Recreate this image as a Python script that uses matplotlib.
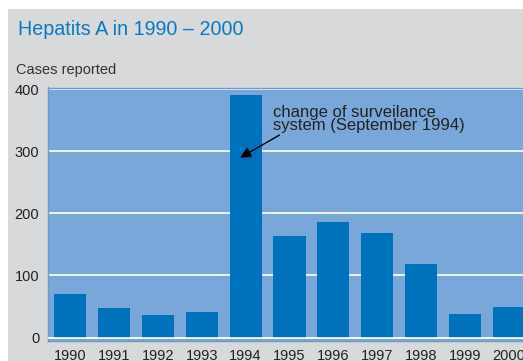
import matplotlib
matplotlib.use("Agg")
from matplotlib import pyplot as plt
from matplotlib.patches import Rectangle

years = ['1990', '1991', '1992', '1993', '1994', '1995', '1996', '1997', '1998', '1999', '2000']
cases = [70, 48, 36, 41, 390, 163, 186, 168, 118, 38, 49]
yticks = [0, 100, 200, 300, 400]

plt.rcParams['font.family'] = ['Liberation Sans', 'DejaVu Sans']

fig = plt.figure(figsize=(5.23, 3.61), dpi=100, facecolor='white')

# grey panel behind everything, starts a few px in from the top-left corner
fig.patches.append(Rectangle((8 / 523, 0), 1, 1 - 9 / 361, transform=fig.transFigure,
                             facecolor='#d8d9db', edgecolor='none', zorder=-10))

ax = fig.add_axes([47.7 / 523, 1 - 340.5 / 361, (531 - 47.7) / 523, (340.5 - 87.5) / 361])
ax.set_facecolor('#7aa7d9')

x = list(range(len(years)))
ax.bar(x, cases, width=0.73, color='#0072bc', zorder=2)

ax.set_xlim(-0.507, 10.5)
ax.set_ylim(-4.8, 402.6)
ax.set_yticks(yticks)
ax.set_xticks(x)
ax.set_xticklabels(years)
ax.yaxis.grid(True, color='white', linewidth=1.2, zorder=1)
ax.set_axisbelow(True)
ax.axhline(0, color='white', linewidth=1.2, zorder=3)

ax.tick_params(length=0, labelsize=10.5, colors='#222222')
ax.tick_params(axis='y', pad=6)
ax.tick_params(axis='x', pad=6)
for side in ['top', 'bottom', 'left', 'right']:
    ax.spines[side].set_color('#6f9acb')
    ax.spines[side].set_linewidth(1)

fig.text(18 / 523, 1 - 35 / 361, 'Hepatits A in 1990 \u2013 2000', fontsize=14.2,
         color='#0b78c3', ha='left', va='baseline')
fig.text(16 / 523, 1 - 74 / 361, 'Cases reported', fontsize=10.5,
         color='#333333', ha='left', va='baseline')

ax.text(4.62, 375, 'change of surveilance\nsystem (September 1994)', fontsize=12,
        color='#222222', ha='left', va='top', linespacing=0.85, zorder=5)
ax.annotate('', xy=(3.876, 289.5), xytext=(4.77, 326),
            arrowprops=dict(arrowstyle='-|>', color='black', lw=1,
                            mutation_scale=16, shrinkA=0, shrinkB=0), zorder=5)

plt.savefig('out.png', dpi=100, facecolor=fig.get_facecolor())
